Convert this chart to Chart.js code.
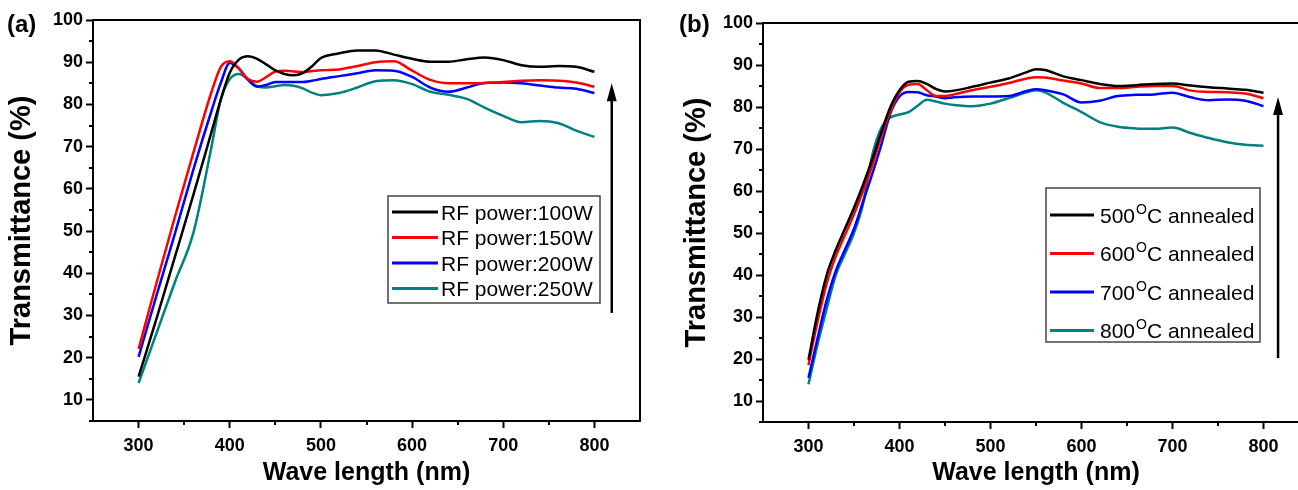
<!DOCTYPE html>
<html>
<head>
<meta charset="utf-8">
<script src="https://cdn.jsdelivr.net/npm/chart.js@4.4.1/dist/chart.umd.min.js"></script>
<style>
  html, body { margin: 0; padding: 0; background: #fff; }
  body { width: 1298px; height: 490px; overflow: hidden; position: relative; }
  canvas { position: absolute; top: 0; }
  #chartA { left: 0; }
  #chartB { left: 676px; }
</style>
</head>
<body>
<canvas id="chartA" width="660" height="490"></canvas>
<canvas id="chartB" width="654" height="490"></canvas>
<script>
// (a) RF power series
const wavelengthA = [300, 320, 340, 360, 380, 390, 400, 410, 420, 430, 440, 450, 460, 470, 480, 490, 500,
  520, 540, 560, 580, 600, 620, 640, 660, 680, 700, 720, 740, 760, 780, 800];
const rf100 = [15.5, 29.5, 44, 58.5, 73.5, 81, 87.5, 90.6, 91.4, 90.8, 89.5, 88.1, 87.2, 86.9, 87.4, 89, 91,
  92.1, 92.8, 92.8, 91.8, 90.8, 90.1, 90.1, 90.7, 91.1, 90.5, 89.3, 88.9, 89.1, 88.9, 87.7];
const rf150 = [22.1, 38, 53.5, 68.5, 83, 88.8, 90.2, 88.5, 86, 85.4, 86.5, 87.8, 88, 87.8, 87.7, 87.9, 88.1,
  88.3, 89.1, 90.0, 90.2, 88, 85.8, 85, 85, 85.1, 85.3, 85.6, 85.7, 85.6, 85.2, 84.2];
const rf200 = [20.2, 35, 49.5, 64.5, 78.5, 85, 89.8, 88.5, 85.8, 84.2, 84.6, 85.3, 85.3, 85.3, 85.3, 85.6, 86,
  86.7, 87.4, 88.1, 88, 86.5, 84, 83, 84, 85.1, 85.2, 85, 84.5, 84, 83.7, 82.7];
const rf250 = [14, 26, 38, 49.5, 70, 81, 86, 87.2, 86, 84.3, 84, 84.3, 84.6, 84.4, 83.8, 82.8, 82.2,
  82.7, 84, 85.5, 85.7, 84.8, 83, 82.3, 81.3, 79.2, 77.3, 75.8, 76.1, 75.6, 73.8, 72.3];
const rfLabels = ['RF power:100W', 'RF power:150W', 'RF power:200W', 'RF power:250W'];

// (b) annealing series
const wavelengthB = [300, 310, 320, 330, 340, 350, 360, 370, 380, 390, 400, 410, 420, 430, 440, 450, 460,
  480, 500, 520, 540, 550, 560, 580, 600, 620, 640, 660, 680, 700, 720, 740, 760, 780, 800];
const anneal500 = [19.8, 31, 40, 46, 51, 56, 61.5, 67.5, 74, 80, 84, 86, 86.2, 85.5, 84.3, 83.7, 83.9,
  84.8, 85.8, 86.8, 88.3, 89.0, 88.8, 87.3, 86.4, 85.5, 85, 85.2, 85.5, 85.6, 85.1, 84.7, 84.4, 84.1, 83.4];
const anneal600 = [18.6, 29, 38, 44.5, 49.5, 54.5, 60, 66, 73, 79, 83.5, 85.3, 85.5, 84, 82.6, 82.6, 83,
  84, 84.8, 85.7, 86.8, 87.1, 87, 86.3, 85.6, 84.5, 84.5, 84.8, 85, 85, 83.9, 83.6, 83.5, 83.2, 82.1];
const anneal700 = [15.5, 25, 34, 41, 46, 51, 57.5, 64, 71, 78.5, 82.5, 83.6, 83.5, 82.8, 82.5, 82.1, 82.3,
  82.5, 82.5, 82.6, 83.8, 84.2, 84, 83, 81.1, 81.5, 82.6, 82.9, 83, 83.4, 82.3, 81.6, 81.8, 81.5, 80.2];
const anneal800 = [14, 23.5, 32, 40, 45, 50, 57, 68.5, 75, 77.5, 78.2, 78.8, 80.3, 81.7, 81.3, 80.8, 80.5,
  80.2, 80.8, 82.1, 83.5, 84.0, 83.5, 81, 78.8, 76.4, 75.3, 74.9, 74.8, 75.1, 73.8, 72.6, 71.6, 71, 70.8];
const annealTemps = ['500', '600', '700', '800'];

// axes
const xTicks = [300, 400, 500, 600, 700, 800];
const xMinorTicks = [350, 450, 550, 650, 750];
const yTicks = [10, 20, 30, 40, 50, 60, 70, 80, 90, 100];
const yMinorTicks = [5, 15, 25, 35, 45, 55, 65, 75, 85, 95];

const lineColors = ['#000000', '#ff0000', '#0000ff', '#008080'];
const FONT = '"Liberation Sans", Arial, sans-serif';

Chart.defaults.font.family = FONT;
Chart.defaults.color = '#000';

const toPoints = (xs, ys) => xs.map((x, i) => ({ x, y: ys[i] }));

// frame, minor ticks, arrow, legend box and panel letter
const figureExtras = {
  id: 'figureExtras',
  beforeDatasetsDraw(chart, args, opts) {
    const { ctx, chartArea: a, scales: { x, y } } = chart;
    ctx.save();
    ctx.strokeStyle = '#000';
    ctx.lineWidth = 2;
    ctx.strokeRect(a.left, a.top, a.right - a.left, a.bottom - a.top);
    ctx.beginPath();
    xMinorTicks.forEach(v => {
      const px = Math.round(x.getPixelForValue(v));
      ctx.moveTo(px, a.bottom);
      ctx.lineTo(px, a.bottom + 4);
    });
    yMinorTicks.forEach(v => {
      const py = Math.round(y.getPixelForValue(v));
      ctx.moveTo(a.left, py);
      ctx.lineTo(a.left - 4, py);
    });
    ctx.stroke();
    ctx.restore();
  },
  afterDraw(chart, args, opts) {
    const { ctx, scales: { x, y } } = chart;
    ctx.save();

    // arrow
    const ax = x.getPixelForValue(opts.arrow.x);
    const y0 = y.getPixelForValue(opts.arrow.from);
    const y1 = y.getPixelForValue(opts.arrow.to);
    ctx.strokeStyle = '#000';
    ctx.fillStyle = '#000';
    ctx.lineWidth = 2.5;
    ctx.beginPath();
    ctx.moveTo(ax, y0);
    ctx.lineTo(ax, y1 + 14);
    ctx.stroke();
    ctx.beginPath();
    ctx.moveTo(ax, y1);
    ctx.lineTo(ax - 5, y1 + 18);
    ctx.lineTo(ax + 5, y1 + 18);
    ctx.closePath();
    ctx.fill();

    // legend
    const lg = opts.legend;
    ctx.strokeStyle = '#444';
    ctx.lineWidth = 1.5;
    ctx.strokeRect(lg.left, lg.top, lg.width, lg.height);
    ctx.textBaseline = 'alphabetic';
    chart.data.datasets.forEach((ds, i) => {
      const ry = lg.firstRow + i * lg.rowGap;
      ctx.strokeStyle = ds.borderColor;
      ctx.lineWidth = 3;
      ctx.beginPath();
      ctx.moveTo(lg.left + 4, ry);
      ctx.lineTo(lg.left + lg.sample, ry);
      ctx.stroke();

      const base = ry + lg.fontSize * 0.36;
      let tx = lg.left + lg.textX;
      ctx.fillStyle = '#000';
      ctx.font = `${lg.fontSize}px ${FONT}`;
      const parts = ds.legendParts;
      ctx.fillText(parts[0], tx, base);
      tx += ctx.measureText(parts[0]).width;
      if (parts.length > 1) {
        ctx.font = `${lg.supSize}px ${FONT}`;
        ctx.fillText(parts[1], tx + 1, base - lg.supRise);
        tx += ctx.measureText(parts[1]).width + 1;
        ctx.font = `${lg.fontSize}px ${FONT}`;
        ctx.fillText(parts[2], tx, base);
      }
    });

    // panel letter
    ctx.font = `bold 24px ${FONT}`;
    ctx.textBaseline = 'middle';
    ctx.fillText(opts.letter.text, opts.letter.x, opts.letter.y);
    ctx.restore();
  }
};

function makeOptions(cfg) {
  return {
    responsive: false,
    animation: false,
    devicePixelRatio: 1,
    layout: { padding: { top: cfg.top, right: cfg.right, left: 0, bottom: 0 } },
    plugins: {
      legend: { display: false },
      tooltip: { enabled: false },
      figureExtras: cfg.extras
    },
    elements: { point: { radius: 0 }, line: { borderWidth: 2.5, cubicInterpolationMode: 'monotone' } },
    scales: {
      x: {
        type: 'linear',
        min: 250,
        max: 850,
        afterFit(scale) { scale.height = cfg.xHeight; },
        afterBuildTicks(scale) { scale.ticks = xTicks.map(v => ({ value: v })); },
        border: { display: false },
        grid: { drawOnChartArea: false, drawTicks: true, tickLength: 7, tickWidth: 2, tickColor: '#000' },
        ticks: { font: { size: 18, weight: 'bold' }, color: '#000', padding: 7, maxRotation: 0 },
        title: {
          display: true,
          text: 'Wave length (nm)',
          font: { size: 25, weight: 'bold' },
          color: '#000',
          padding: { top: 0, bottom: 2 }
        }
      },
      y: {
        min: 5,
        max: 100,
        afterFit(scale) { scale.width = cfg.yWidth; },
        afterBuildTicks(scale) { scale.ticks = yTicks.map(v => ({ value: v })); },
        border: { display: false },
        grid: { drawOnChartArea: false, drawTicks: true, tickLength: 7, tickWidth: 2, tickColor: '#000' },
        ticks: { font: { size: 18, weight: 'bold' }, color: '#000', padding: 3 },
        title: {
          display: true,
          text: 'Transmittance (%)',
          font: { size: 29, weight: 'bold' },
          color: '#000',
          padding: { top: cfg.yTitlePad, bottom: 0 }
        }
      }
    }
  };
}

new Chart(document.getElementById('chartA'), {
  type: 'line',
  data: {
    datasets: [rf100, rf150, rf200, rf250].map((vals, i) => ({
      label: rfLabels[i],
      legendParts: [rfLabels[i]],
      data: toPoints(wavelengthA, vals),
      borderColor: lineColors[i],
      fill: false
    }))
  },
  options: makeOptions({
    top: 20, right: 20, xHeight: 69, yWidth: 93, yTitlePad: 5,
    extras: {
      arrow: { x: 819, from: 30.6, to: 85 },
      legend: { left: 388, top: 196, width: 212, height: 107, firstRow: 212, rowGap: 25.5,
        sample: 50, textX: 53, fontSize: 21, supSize: 14, supRise: 9 },
      letter: { text: '(a)', x: 7, y: 25 }
    }
  }),
  plugins: [figureExtras]
});

new Chart(document.getElementById('chartB'), {
  type: 'line',
  data: {
    datasets: [anneal500, anneal600, anneal700, anneal800].map((vals, i) => ({
      label: annealTemps[i] + '°C annealed',
      legendParts: [annealTemps[i], 'O', 'C annealed'],
      data: toPoints(wavelengthB, vals),
      borderColor: lineColors[i],
      fill: false
    }))
  },
  options: makeOptions({
    top: 23, right: 21, xHeight: 68, yWidth: 87, yTitlePad: 4,
    extras: {
      arrow: { x: 816, from: 20.2, to: 82.4 },
      legend: { left: 370, top: 188, width: 214, height: 154, firstRow: 215, rowGap: 38.5,
        sample: 48, textX: 54, fontSize: 21, supSize: 14, supRise: 9 },
      letter: { text: '(b)', x: 3, y: 25 }
    }
  }),
  plugins: [figureExtras]
});
</script>
</body>
</html>
